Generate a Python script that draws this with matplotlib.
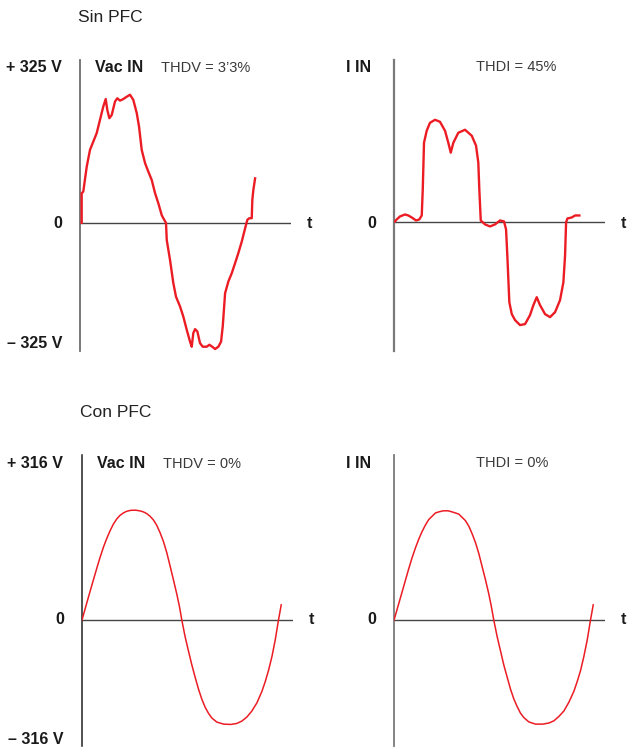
import numpy as np
import matplotlib
matplotlib.use("Agg")
import matplotlib.pyplot as plt

plt.rcParams['font.family'] = ['Liberation Sans', 'DejaVu Sans']

# --- Sin PFC: tension de entrada distorsionada (ms, V)
t_vac_sin = [0.2, 0.2, 0.39, 0.80, 1.19, 1.58, 1.99, 2.38, 2.77, 3.06, 3.25, 3.49, 3.77,
             4.17, 4.44, 4.76, 5.15, 5.56, 5.95, 6.34, 6.75, 7.02, 7.34, 7.74, 8.13,
             8.53, 8.93, 9.32, 9.72, 9.91, 10.23, 10.32, 10.71, 11.10, 11.42, 11.90,
             12.29, 12.70, 13.09, 13.29, 13.48, 13.69, 13.96, 14.28, 14.60, 15.08,
             15.39, 15.79, 16.07, 16.46, 16.78, 16.98, 17.26, 17.65, 18.05, 18.45,
             18.84, 19.24, 19.64, 19.91, 20.15, 20.43, 20.50, 20.62, 20.83]
v_vac_sin = [0, 76, 80, 144, 187, 208, 230, 264, 298, 317, 289, 268, 276,
             311, 319, 313, 317, 323, 328, 315, 281, 247, 187, 153, 131,
             110, 76, 50, 20, 12, 0, -44, -95, -154, -189, -214,
             -240, -274, -304, -317, -282, -272, -278, -308, -317, -317,
             -312, -318, -323, -317, -304, -265, -180, -150, -129, -103,
             -77, -48, -14, 8, 12, 12, 59, 84, 114]

# --- Sin PFC: corriente de entrada (ms, A)
t_iin_sin = [0.12, 0.32, 0.71, 1.31, 1.70, 2.11, 2.62, 3.01, 3.30, 3.42, 3.57, 3.89,
             4.28, 4.88, 5.47, 6.07, 6.46, 6.75, 7.06, 7.65, 8.45, 9.25, 9.76, 10.03,
             10.15, 10.32, 10.83, 11.42, 12.02, 12.61, 13.09, 13.33, 13.48, 13.72,
             14.01, 14.40, 14.99, 15.59, 16.18, 16.58, 16.98, 17.37, 17.97, 18.56,
             19.16, 19.75, 20.15, 20.35, 20.47, 20.63, 21.15, 21.54, 22.05]
i_iin_sin = [0.01, 0.03, 0.06, 0.08, 0.07, 0.05, 0.02, 0.03, 0.07, 0.33, 0.80, 0.92,
             1.00, 1.03, 1.01, 0.92, 0.80, 0.70, 0.80, 0.90, 0.93, 0.87, 0.77, 0.60,
             0.33, 0.02, -0.02, -0.04, -0.02, 0.02, 0.01, -0.07, -0.33, -0.80,
             -0.92, -0.98, -1.03, -1.02, -0.93, -0.83, -0.75, -0.83, -0.92, -0.95,
             -0.90, -0.78, -0.60, -0.33, 0.00, 0.04, 0.05, 0.07, 0.07]

# --- Con PFC: tension y corriente senoidales (ms, V / A)
t_con = [0, 0.48, 0.99, 1.50, 1.84, 2.18, 2.52, 2.86, 3.20, 3.54, 3.88, 4.22, 4.56,
         5.03, 5.51, 5.92, 6.26, 6.60, 6.94, 7.28, 7.62, 7.96, 8.30, 8.64, 8.98,
         9.32, 9.66, 9.93, 10.17, 10.51, 10.85, 11.19, 11.53, 11.87, 12.21, 12.55,
         12.89, 13.23, 13.74, 14.42, 15.16, 15.78, 16.29, 16.80, 17.31, 17.82,
         18.33, 18.67, 19.01, 19.35, 19.69, 20.02, 20.30]
v_vac_con = [0, 50, 102, 153, 186, 216, 242, 265, 285, 300, 311, 318, 323,
             326, 326, 324, 321, 316, 308, 297, 281, 259, 233, 200, 160,
             119, 77, 40, 0, -50, -92, -133, -170, -205, -235, -259,
             -277, -291, -303, -309, -310, -307, -300, -288, -270, -246,
             -212, -183, -149, -109, -59, 0, 45]
i_iin_con = [0, 0.15, 0.31, 0.47, 0.57, 0.66, 0.74, 0.81, 0.87, 0.92, 0.95, 0.98, 0.99,
             1.00, 1.00, 0.99, 0.98, 0.97, 0.94, 0.91, 0.86, 0.79, 0.71, 0.61, 0.49,
             0.37, 0.24, 0.12, 0, -0.15, -0.28, -0.41, -0.52, -0.63, -0.72, -0.79,
             -0.85, -0.89, -0.93, -0.95, -0.95, -0.94, -0.92, -0.88, -0.83, -0.75,
             -0.65, -0.56, -0.46, -0.33, -0.18, 0, 0.14]

W, H = 627, 749
RED = '#ec1c24'
fig = plt.figure(figsize=(W / 100, H / 100), dpi=100)


def add_panel(x0, y0, x1, y1, xlim, ylim, spine_color, spine_w):
    ax = fig.add_axes([x0 / W, 1 - y1 / H, (x1 - x0) / W, (y1 - y0) / H])
    ax.set_xlim(*xlim)
    ax.set_ylim(*ylim)
    for s in ['top', 'right', 'bottom']:
        ax.spines[s].set_visible(False)
    ax.spines['left'].set_color(spine_color)
    ax.spines['left'].set_linewidth(spine_w)
    ax.set_xticks([])
    ax.set_yticks([])
    ax.axhline(0, color='#444444', lw=1.0, zorder=1)
    ax.patch.set_alpha(0)
    return ax


def label(x, y, s, size=11.5, weight='bold', ha='left', color='#1a1a1a'):
    fig.text(x / W, 1 - y / H, s, fontsize=size, fontweight=weight, ha=ha, va='center',
             color=color)


ax1 = add_panel(80, 60, 291, 351, (0, 25.1), (-328, 417), '#6e6e6e', 1.3)
ax1.plot(t_vac_sin, v_vac_sin, color=RED, lw=1.7, solid_joinstyle='round', zorder=3)

ax2 = add_panel(394, 60, 605, 351, (0, 25.1), (-1.29, 1.63), '#7a7a7a', 1.6)
ax2.plot(t_iin_sin, i_iin_sin, color=RED, lw=1.7, solid_joinstyle='round', zorder=3)

ax3 = add_panel(82, 455, 293, 746, (0, 21.5), (-374, 490), '#222222', 1.1)
ax3.plot(t_con, v_vac_con, color=RED, lw=1.1, zorder=3)

ax4 = add_panel(394, 455, 605, 746, (0, 21.5), (-1.15, 1.51), '#7a7a7a', 1.3)
ax4.plot(t_con, i_iin_con, color=RED, lw=1.1, zorder=3)

# textos
label(78, 18, 'Sin PFC', size=12.5, weight='normal', color='#222222')
label(80, 413, 'Con PFC', size=12.5, weight='normal', color='#222222')

label(62, 68, '+ 325 V', ha='right')
label(62, 223, '0', ha='right')
label(62, 344, '\u2013 325 V', ha='right')
label(95, 68, 'Vac IN')
label(161, 68, 'THDV = 3\u20193%', size=10.5, weight='normal', color='#3a3a3a')
label(307, 223, 't')

label(346, 67, 'I IN')
label(476, 67, 'THDI = 45%', size=10.5, weight='normal', color='#3a3a3a')
label(376, 223, '0', ha='right')
label(621, 223, 't')

label(63, 464, '+ 316 V', ha='right')
label(64, 620, '0', ha='right')
label(63, 740, '\u2013 316 V', ha='right')
label(97, 464, 'Vac IN')
label(163, 464, 'THDV = 0%', size=10.5, weight='normal', color='#3a3a3a')
label(309, 620, 't')

label(346, 463, 'I IN')
label(476, 463, 'THDI = 0%', size=10.5, weight='normal', color='#3a3a3a')
label(376, 620, '0', ha='right')
label(621, 620, 't')

fig.savefig('out.png', dpi=100)
